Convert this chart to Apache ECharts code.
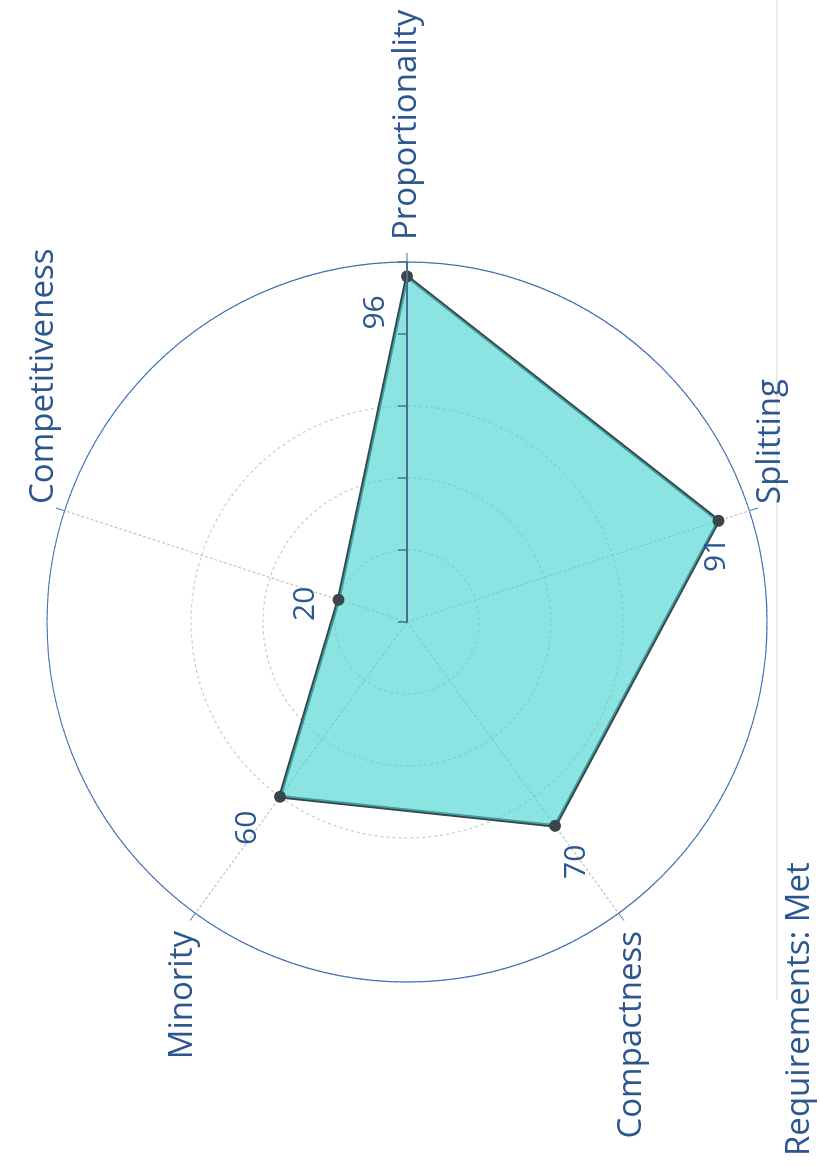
<!DOCTYPE html>
<html>
<head>
<meta charset="utf-8">
<script src="https://cdn.jsdelivr.net/npm/echarts@6/dist/echarts.min.js"></script>
<style>
  html, body { margin: 0; padding: 0; background: #fff; overflow: hidden; }
  /* the photo shows the chart turned a quarter turn counter-clockwise */
  #chart {
    position: absolute; left: 0; top: 0;
    width: 1165px; height: 820px;
    transform-origin: 0 0;
    transform: translateY(1165px) rotate(-90deg);
  }
</style>
</head>
<body>
<div id="chart"></div>
<script>
const categories = ['Proportionality', 'Competitiveness', 'Minority', 'Compactness', 'Splitting'];
const scores = [96, 20, 60, 70, 91];
const radiusMax = 100;
const radiusStep = 20;
const title = 'Requirements: Met';

// label nudges for the value texts (style only)
const labelOffsets = [[-36, -32], [-4, -33], [-31, -33], [-36, 21], [-34, -2]];

const CENTER = [543, 407];
const RADIUS = 360;
const BLUE = '#2c568f';
const FONT = 'Open Sans';

const chart = echarts.init(document.getElementById('chart'));
const step = 360 / categories.length;

chart.setOption({
  backgroundColor: '#fff',
  animation: false,
  title: {
    text: title,
    left: 4,
    top: 778,
    textStyle: { color: BLUE, fontFamily: FONT, fontSize: 33, fontWeight: 'normal' }
  },
  polar: { center: CENTER, radius: RADIUS },
  angleAxis: {
    type: 'value', min: 0, max: 360, interval: step,
    startAngle: 0, clockwise: false,
    axisLine: { lineStyle: { color: '#3d70b8', width: 1.2 } },
    axisTick: { show: true, length: 9, lineStyle: { color: '#3d70b8' } },
    axisLabel: { show: false },
    splitLine: { show: false }
  },
  radiusAxis: {
    min: 0, max: radiusMax, interval: radiusStep,
    axisLine: { show: true, lineStyle: { color: '#4a6d95', width: 2 } },
    axisTick: { show: true, length: 9, inside: false, lineStyle: { color: '#4a6d95', width: 1.5 } },
    axisLabel: { show: false },
    splitLine: { show: false },
    z: 5
  },
  radar: {
    center: CENTER,
    radius: RADIUS,
    startAngle: 0,
    shape: 'circle',
    splitNumber: radiusMax / radiusStep,
    nameGap: 22,
    axisName: { color: BLUE, fontFamily: FONT, fontSize: 33 },
    indicator: categories.map(name => ({ name, min: 0, max: radiusMax })),
    splitArea: { show: false },
    splitLine: {
      lineStyle: {
        color: ['#cccccc', '#cccccc', '#cccccc', '#cccccc', 'rgba(0,0,0,0)'],
        type: [3, 3],
        width: 1.2
      }
    },
    axisLine: { lineStyle: { color: '#c4c4c4', type: [2, 3], width: 1.2 } }
  },
  graphic: [{
    type: 'line',
    shape: { x1: 165, y1: 777, x2: 1165, y2: 777 },
    style: { stroke: '#e6e6e6', lineWidth: 1.5 },
    silent: true
  }],
  series: [
    {
      type: 'radar',
      symbol: 'circle',
      symbolSize: 12,
      z: 3,
      itemStyle: { color: '#3b4649' },
      lineStyle: { color: '#36464b', width: 3.5 },
      areaStyle: { color: '#45d4d0', opacity: 0.62 },
      data: [{ value: scores, name: 'Score' }]
    },
    {
      type: 'scatter',
      coordinateSystem: 'polar',
      symbolSize: 1,
      z: 6,
      itemStyle: { color: 'rgba(0,0,0,0)', opacity: 1 },
      label: {
        show: true,
        position: 'inside',
        color: BLUE,
        fontFamily: FONT,
        fontSize: 30,
        formatter: p => p.value[0]
      },
      data: scores.map((v, i) => ({
        value: [v, i * step],
        label: { offset: labelOffsets[i] }
      }))
    }
  ]
});
</script>
</body>
</html>
